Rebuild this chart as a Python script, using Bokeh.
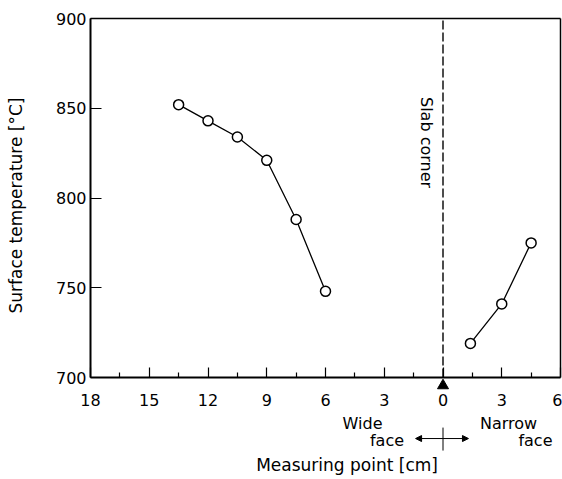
from bokeh.plotting import figure
from bokeh.models import Range1d, FixedTicker, Label, Arrow, NormalHead, LinearAxis
from bokeh.embed import file_html
from bokeh.resources import INLINE
import math

# ---- data ----
wide_dist = [13.5, 12, 10.5, 9, 7.5, 6]          # cm from corner, wide face
wide_temp = [852, 843, 834, 821, 788, 748]       # deg C
narrow_dist = [1.4, 3, 4.5]                      # cm from corner, narrow face
narrow_temp = [719, 741, 775]

x_ticks = [-18, -15, -12, -9, -6, -3, 0, 3, 6]
x_tick_labels = ["18", "15", "12", "9", "6", "3", "0", "3", "6"]
x_minor = [-16.5, -13.5, -10.5, -7.5, -4.5, -1.5, 1.5, 4.5]
y_ticks = [700, 750, 800, 850, 900]
y_lo, y_hi = 700, 900
x_lo, x_hi = -18, 6
corner_x = 0

FONT = "DejaVu Sans"

# the frame covers the whole canvas; the axes box is drawn with fixed-location axes
p = figure(width=562, height=479, output_backend="svg", toolbar_location=None,
           x_range=Range1d(-22.596, 6.102), y_range=Range1d(643.18, 910.03),
           min_border_left=0, min_border_right=0, min_border_top=0, min_border_bottom=0)
p.background_fill_color = "white"
p.border_fill_color = "white"
p.grid.visible = False
p.outline_line_color = None

# axes
xa = p.xaxis[0]
xa.fixed_location = y_lo
xa.bounds = (x_lo, x_hi)
xa.ticker = FixedTicker(ticks=x_ticks, minor_ticks=x_minor)
xa.major_label_overrides = {t: l for t, l in zip(x_ticks, x_tick_labels)}
xa.major_tick_in = 10
xa.major_tick_out = 0
xa.minor_tick_in = 5
xa.minor_tick_out = 0
xa.major_label_standoff = 16
ya = p.yaxis[0]
ya.fixed_location = x_lo
ya.bounds = (y_lo, y_hi)
ya.ticker = FixedTicker(ticks=y_ticks)
ya.major_tick_in = 11
ya.major_tick_out = 0
ya.minor_tick_line_color = None
ya.major_label_standoff = 4
for ax in (xa, ya):
    ax.axis_line_width = 2
    ax.axis_line_color = "black"
    ax.major_tick_line_color = "black"
    ax.major_tick_line_width = 1.2
    ax.minor_tick_line_width = 1.2
    ax.major_label_text_font = FONT
    ax.major_label_text_font_size = "16px"
    ax.major_label_text_color = "black"

# frame top and right edges
top_ax = LinearAxis(ticker=FixedTicker(ticks=[]), axis_line_width=1.5, bounds=(x_lo, x_hi),
                    fixed_location=y_hi,
                    major_tick_line_color=None, minor_tick_line_color=None)
p.add_layout(top_ax, "above")
right_ax = LinearAxis(ticker=FixedTicker(ticks=[]), axis_line_width=1.5, bounds=(y_lo, y_hi),
                      fixed_location=x_hi,
                      major_tick_line_color=None, minor_tick_line_color=None)
p.add_layout(right_ax, "right")

# slab corner dashed line
p.segment(x0=[corner_x], y0=[y_lo], x1=[corner_x], y1=[y_hi], line_color="black",
          line_width=1.4, line_dash="9 3")

# data
wx = [-d for d in wide_dist]
p.line(wx, wide_temp, line_color="black", line_width=1.3)
p.scatter(wx, wide_temp, size=10, marker="circle", fill_color="white",
          line_color="black", line_width=1.5)
p.line(narrow_dist, narrow_temp, line_color="black", line_width=1.3)
p.scatter(narrow_dist, narrow_temp, size=10, marker="circle", fill_color="white",
          line_color="black", line_width=1.5)

# corner triangle marker below axis
p.scatter(x=[corner_x], y=[695.5], marker="triangle", size=11, fill_color="black",
          line_color="black")

# direction arrows
p.add_layout(Arrow(x_start=corner_x, y_start=666, x_end=-1.4, y_end=666,
                   line_color="black", line_width=1,
                   end=NormalHead(size=6, fill_color="black", line_color="black")))
p.add_layout(Arrow(x_start=corner_x, y_start=666, x_end=1.3, y_end=666,
                   line_color="black", line_width=1,
                   end=NormalHead(size=6, fill_color="black", line_color="black")))
p.segment(x0=[corner_x], y0=[672.1], x1=[corner_x], y1=[659.3], line_color="black",
          line_width=1)

def lab(x, y, t, align="center", angle=0.0, size="16px"):
    p.add_layout(Label(x=x, y=y, text=t, text_align=align, text_baseline="middle",
                       angle=angle, text_font=FONT, text_font_size=size,
                       text_color="black"))

lab(-4.11, 674.4, "Wide")
lab(-2.86, 664.9, "face")
lab(3.35, 674.4, "Narrow")
lab(4.72, 664.9, "face")
lab(-4.9, 651.0, "Measuring point [cm]", size="17px")
lab(-21.83, 795.8, "Surface temperature [°C]", angle=math.pi / 2, size="17px")
lab(-0.84, 830.9, "Slab corner", angle=-math.pi / 2)

open("out.html", "w").write(file_html(p, INLINE))
